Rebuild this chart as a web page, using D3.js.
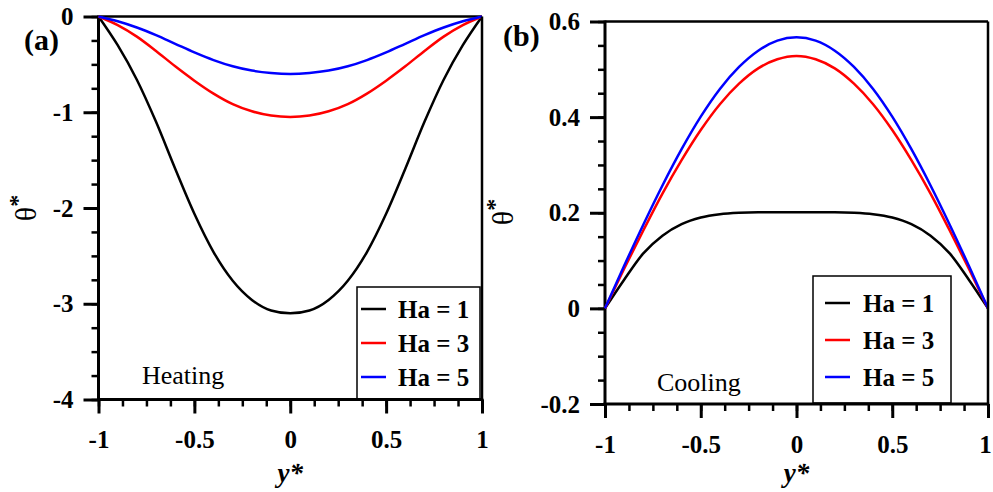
<!DOCTYPE html>
<html><head><meta charset="utf-8">
<script src="https://cdn.jsdelivr.net/npm/d3@7"></script>
<style>body{margin:0;background:#fff}svg{display:block}</style>
</head><body>
<svg id="c" width="993" height="492"></svg>
<script>
const yStar = [-1,-0.9,-0.8,-0.7,-0.6,-0.5,-0.4,-0.3,-0.2,-0.1,0,0.1,0.2,0.3,0.4,0.5,0.6,0.7,0.8,0.9,1];
const heatHa1 = [0,-0.30,-0.66,-1.10,-1.59,-2.06,-2.46,-2.76,-2.96,-3.07,-3.10,-3.07,-2.96,-2.76,-2.46,-2.06,-1.59,-1.10,-0.66,-0.30,0];
const heatHa3 = [0,-0.09,-0.21,-0.36,-0.52,-0.67,-0.805,-0.915,-0.99,-1.035,-1.05,-1.035,-0.99,-0.915,-0.805,-0.67,-0.52,-0.36,-0.21,-0.09,0];
const heatHa5 = [0,-0.05,-0.115,-0.195,-0.285,-0.375,-0.455,-0.52,-0.565,-0.59,-0.60,-0.59,-0.565,-0.52,-0.455,-0.375,-0.285,-0.195,-0.115,-0.05,0];
const coolHa1 = [0,0.06,0.115,0.152,0.176,0.19,0.197,0.200,0.201,0.201,0.201,0.201,0.201,0.200,0.197,0.19,0.176,0.152,0.115,0.06,0];
const coolHa3 = [0,0.083,0.163,0.24,0.31,0.373,0.427,0.47,0.502,0.521,0.528,0.521,0.502,0.47,0.427,0.373,0.31,0.24,0.163,0.083,0];
const coolHa5 = [0,0.089,0.175,0.257,0.333,0.401,0.459,0.505,0.539,0.56,0.567,0.56,0.539,0.505,0.459,0.401,0.333,0.257,0.175,0.089,0];
const seriesNames = ["Ha = 1","Ha = 3","Ha = 5"];
const seriesColors = ["#000000","#ff0000","#0000ff"];
const xTicks = [-1,-0.5,0,0.5,1];
const heatYTicks = [-4,-3,-2,-1,0];
const coolYTicks = [-0.2,0,0.2,0.4,0.6];

const svg = d3.select("#c");
const serif = "Liberation Serif";

function boldText(sel){
  sel.attr("font-family",serif).attr("font-weight","bold").attr("fill","#000");
}

function panel(o){
  const x = d3.scaleLinear().domain([-1,1]).range([o.x0,o.x1]);
  const y = d3.scaleLinear().domain(o.ydom).range([o.y1,o.y0]);
  const g = svg.append("g");
  const xMinor = d3.range(-1,1.0001,0.125);
  g.append("g").attr("transform",`translate(0,${o.y1})`)
    .call(d3.axisBottom(x).tickValues(xMinor).tickSize(7).tickFormat(""))
    .call(s=>{s.select(".domain").remove();s.selectAll("line").attr("stroke-width",2.5);});
  const yStep = (o.ydom[1]-o.ydom[0])/16;
  const yMinor = d3.range(0,17).map(i=>o.ydom[0]+i*yStep);
  g.append("g").attr("transform",`translate(${o.x0},0)`)
    .call(d3.axisLeft(y).tickValues(yMinor).tickSize(7).tickFormat(""))
    .call(s=>{s.select(".domain").remove();s.selectAll("line").attr("stroke-width",2.5);});
  const fmt = d=>d3.format("")(d).replace("−","-");
  g.append("g").attr("transform",`translate(0,${o.y1})`)
    .call(d3.axisBottom(x).tickValues(xTicks).tickSize(14).tickPadding(17).tickFormat(fmt))
    .call(s=>{s.select(".domain").remove();s.selectAll("line").attr("stroke-width",3);
      s.selectAll("text").call(boldText).attr("font-size",25);
      if (o.lastShift) s.selectAll("text").filter(d=>d===1).attr("dx",o.lastShift);});
  g.append("g").attr("transform",`translate(${o.x0},0)`)
    .call(d3.axisLeft(y).tickValues(o.yticks).tickSize(15).tickPadding(10).tickFormat(fmt))
    .call(s=>{s.select(".domain").remove();s.selectAll("line").attr("stroke-width",3);
      s.selectAll("text").call(boldText).attr("font-size",25);});
  g.append("line").attr("x1",o.x0).attr("x2",o.x1).attr("y1",o.y0).attr("y2",o.y0).attr("stroke","#000").attr("stroke-width",2.5);
  g.append("line").attr("x1",o.x0).attr("x2",o.x0).attr("y1",o.y0-1).attr("y2",o.y1+1.5).attr("stroke","#000").attr("stroke-width",3);
  const line = d3.line().x((d,i)=>x(yStar[i])).y(d=>y(d)).curve(d3.curveMonotoneX);
  o.series.forEach((s,k)=>{
    g.append("path").datum(s).attr("d",line).attr("fill","none").attr("stroke",seriesColors[k]).attr("stroke-width",2.5);
  });
  const L = o.legend;
  g.append("rect").attr("x",L.x).attr("y",L.y).attr("width",L.w).attr("height",L.h).attr("fill","#fff").attr("stroke","#000").attr("stroke-width",1.5);
  seriesNames.forEach((n,k)=>{
    const cy = L.r0 + k*L.dr;
    g.append("line").attr("x1",L.lx0).attr("x2",L.lx1).attr("y1",cy).attr("y2",cy).attr("stroke",seriesColors[k]).attr("stroke-width",2.5);
    g.append("text").attr("x",L.tx).attr("y",cy+8.5).text(n).call(boldText).attr("font-size",25);
  });
  g.append("line").attr("x1",o.x1).attr("x2",o.x1).attr("y1",o.y0).attr("y2",o.y1+1.5).attr("stroke","#000").attr("stroke-width",2.5);
  g.append("line").attr("x1",o.x0-1.5).attr("x2",o.x1+1.2).attr("y1",o.y1).attr("y2",o.y1).attr("stroke","#000").attr("stroke-width",3);
  g.append("text").attr("x",o.tag[0]).attr("y",o.tag[1]).text(o.tagText).call(boldText).attr("font-size",30);
  g.append("text").attr("x",o.note[0]).attr("y",o.note[1]).text(o.noteText).attr("font-family",serif).attr("font-size",26);
  g.append("text").attr("x",(o.x0+o.x1)/2).attr("y",482).attr("text-anchor","middle")
    .call(boldText).attr("font-style","italic").attr("font-size",27).text("y*");
  const yl = g.append("text").attr("transform",`translate(${o.ylab[0]},${o.ylab[1]}) rotate(-90)`).attr("text-anchor","middle")
    .attr("font-family",serif).attr("font-size",30);
  yl.append("tspan").text("θ");
  yl.append("tspan").text("*").attr("dy",-11).attr("font-size",24).attr("font-weight","bold");
}

panel({x0:98.5,x1:482,y0:16.5,y1:399.5,ydom:[-4,0],yticks:heatYTicks,series:[heatHa1,heatHa3,heatHa5],
  legend:{x:357,y:287,w:123,h:112,lx0:361,lx1:386,tx:398,r0:309,dr:34},
  tag:[24,50],tagText:"(a)",note:[142,384],noteText:"Heating",ylab:[36,208]});
panel({x0:605,x1:988,y0:21.5,y1:404,ydom:[-0.2,0.6],yticks:coolYTicks,series:[coolHa1,coolHa3,coolHa5],
  legend:{x:813,y:276,w:138,h:127,lx0:825,lx1:850,tx:863,r0:303,dr:37},
  tag:[503,46],tagText:"(b)",note:[657,391],noteText:"Cooling",ylab:[513,212],lastShift:-3});
</script>
</body></html>
